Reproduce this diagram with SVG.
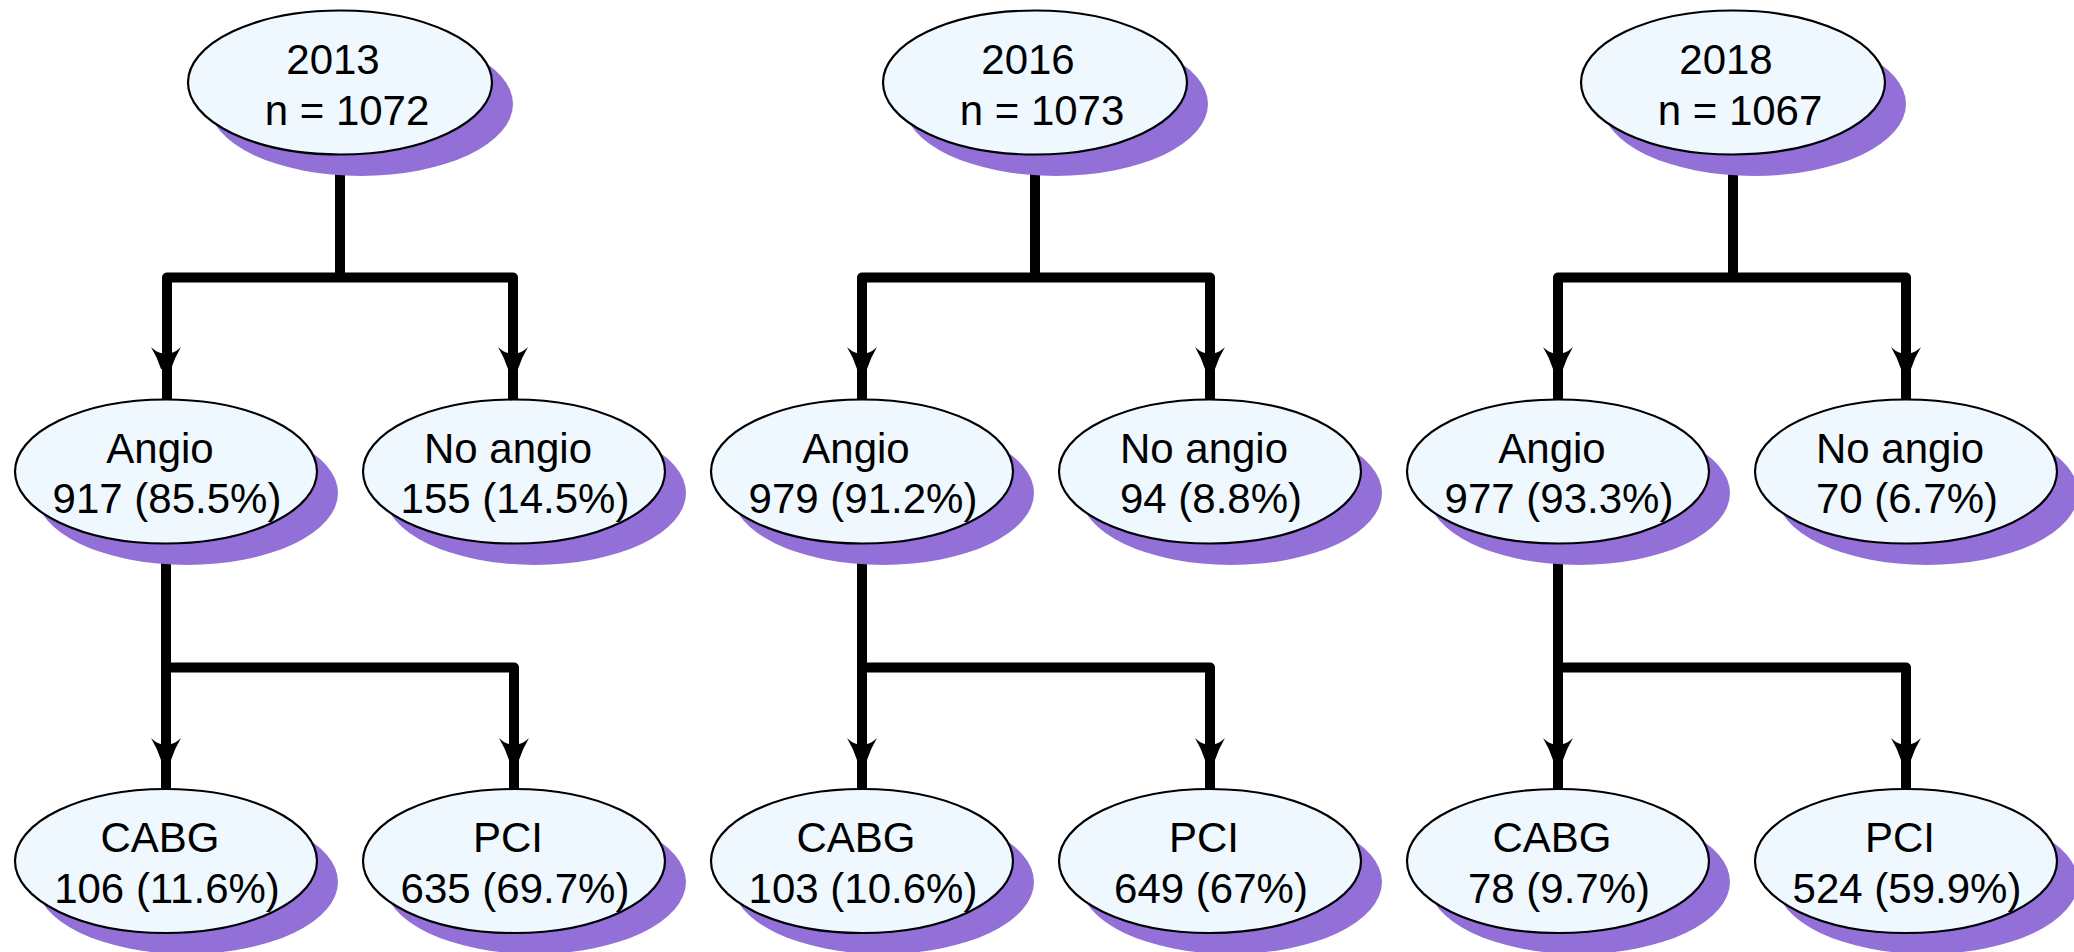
<svg xmlns="http://www.w3.org/2000/svg" xmlns:xlink="http://www.w3.org/1999/xlink" width="2074" height="952" viewBox="0 0 2074 952">
<style>
.sh{fill:#9370D8;stroke:none}
.el{fill:#EFF7FF;stroke:#000;stroke-width:2.2}
.t{font-family:"Liberation Sans",Arial,sans-serif;font-size:42px;fill:#000;text-anchor:middle}
.c{fill:none;stroke:#000;stroke-width:10;stroke-linejoin:round}
</style>
<defs>
<path id="ah" d="M-15,-2 Q-10,3 -5,4 L5,4 Q10,3 15,-2 Q9,8 5,20 L-5,20 Q-9,8 -15,-2 Z" fill="#000"/>
</defs>
<rect width="2074" height="952" fill="#fff"/>
<g id="connectors">
<path class="c" d="M340,150 V277.5 M167,400 V277.5 H513 V400"/>
<path class="c" d="M166,540 V789 M166,667.5 H514 V789"/>
<use xlink:href="#ah" x="166" y="349"/><use xlink:href="#ah" x="513" y="349"/>
<use xlink:href="#ah" x="166" y="740"/><use xlink:href="#ah" x="514" y="740"/>
<path class="c" d="M1035,150 V277.5 M862,400 V277.5 H1210 V400"/>
<path class="c" d="M862,540 V789 M862,667.5 H1210 V789"/>
<use xlink:href="#ah" x="862" y="349"/><use xlink:href="#ah" x="1210" y="349"/>
<use xlink:href="#ah" x="862" y="740"/><use xlink:href="#ah" x="1210" y="740"/>
<path class="c" d="M1733,150 V277.5 M1558,400 V277.5 H1906 V400"/>
<path class="c" d="M1558,540 V789 M1558,667.5 H1906 V789"/>
<use xlink:href="#ah" x="1558" y="349"/><use xlink:href="#ah" x="1906" y="349"/>
<use xlink:href="#ah" x="1558" y="740"/><use xlink:href="#ah" x="1906" y="740"/>
</g>
<g id="n2013"><ellipse class="sh" cx="361" cy="104" rx="152" ry="72"/><ellipse class="el" cx="340" cy="82.5" rx="152" ry="72"/><text class="t" x="333" y="74">2013</text><text class="t" x="347" y="125">n = 1072</text></g>
<g id="n2016"><ellipse class="sh" cx="1056" cy="104" rx="152" ry="72"/><ellipse class="el" cx="1035" cy="82.5" rx="152" ry="72"/><text class="t" x="1028" y="74">2016</text><text class="t" x="1042" y="125">n = 1073</text></g>
<g id="n2018"><ellipse class="sh" cx="1754" cy="104" rx="152" ry="72"/><ellipse class="el" cx="1733" cy="82.5" rx="152" ry="72"/><text class="t" x="1726" y="74">2018</text><text class="t" x="1740" y="125">n = 1067</text></g>

<g id="angio2013"><ellipse class="sh" cx="187" cy="493" rx="151" ry="72"/><ellipse class="el" cx="166" cy="471.5" rx="151" ry="72"/><text class="t" x="160" y="463">Angio</text><text class="t" x="167" y="513">917 (85.5%)</text></g>
<g id="noangio2013"><ellipse class="sh" cx="535" cy="493" rx="151" ry="72"/><ellipse class="el" cx="514" cy="471.5" rx="151" ry="72"/><text class="t" x="508" y="463">No angio</text><text class="t" x="515" y="513">155 (14.5%)</text></g>
<g id="angio2016"><ellipse class="sh" cx="883" cy="493" rx="151" ry="72"/><ellipse class="el" cx="862" cy="471.5" rx="151" ry="72"/><text class="t" x="856" y="463">Angio</text><text class="t" x="863" y="513">979 (91.2%)</text></g>
<g id="noangio2016"><ellipse class="sh" cx="1231" cy="493" rx="151" ry="72"/><ellipse class="el" cx="1210" cy="471.5" rx="151" ry="72"/><text class="t" x="1204" y="463">No angio</text><text class="t" x="1211" y="513">94 (8.8%)</text></g>
<g id="angio2018"><ellipse class="sh" cx="1579" cy="493" rx="151" ry="72"/><ellipse class="el" cx="1558" cy="471.5" rx="151" ry="72"/><text class="t" x="1552" y="463">Angio</text><text class="t" x="1559" y="513">977 (93.3%)</text></g>
<g id="noangio2018"><ellipse class="sh" cx="1927" cy="493" rx="151" ry="72"/><ellipse class="el" cx="1906" cy="471.5" rx="151" ry="72"/><text class="t" x="1900" y="463">No angio</text><text class="t" x="1907" y="513">70 (6.7%)</text></g>

<g id="cabg2013"><ellipse class="sh" cx="187" cy="882" rx="151" ry="72"/><ellipse class="el" cx="166" cy="861" rx="151" ry="72"/><text class="t" x="160" y="852">CABG</text><text class="t" x="167" y="903">106 (11.6%)</text></g>
<g id="pci2013"><ellipse class="sh" cx="535" cy="882" rx="151" ry="72"/><ellipse class="el" cx="514" cy="861" rx="151" ry="72"/><text class="t" x="508" y="852">PCI</text><text class="t" x="515" y="903">635 (69.7%)</text></g>
<g id="cabg2016"><ellipse class="sh" cx="883" cy="882" rx="151" ry="72"/><ellipse class="el" cx="862" cy="861" rx="151" ry="72"/><text class="t" x="856" y="852">CABG</text><text class="t" x="863" y="903">103 (10.6%)</text></g>
<g id="pci2016"><ellipse class="sh" cx="1231" cy="882" rx="151" ry="72"/><ellipse class="el" cx="1210" cy="861" rx="151" ry="72"/><text class="t" x="1204" y="852">PCI</text><text class="t" x="1211" y="903">649 (67%)</text></g>
<g id="cabg2018"><ellipse class="sh" cx="1579" cy="882" rx="151" ry="72"/><ellipse class="el" cx="1558" cy="861" rx="151" ry="72"/><text class="t" x="1552" y="852">CABG</text><text class="t" x="1559" y="903">78 (9.7%)</text></g>
<g id="pci2018"><ellipse class="sh" cx="1927" cy="882" rx="151" ry="72"/><ellipse class="el" cx="1906" cy="861" rx="151" ry="72"/><text class="t" x="1900" y="852">PCI</text><text class="t" x="1907" y="903">524 (59.9%)</text></g>
</svg>
